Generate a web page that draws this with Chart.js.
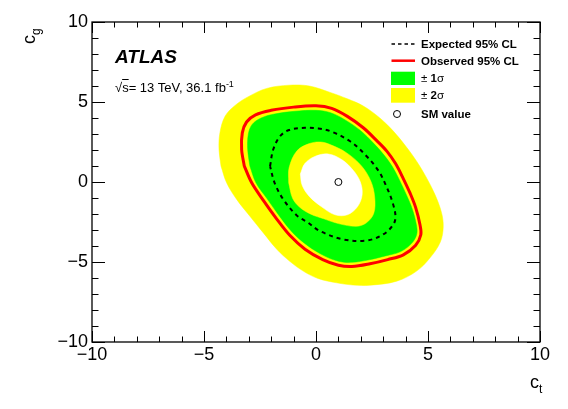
<!DOCTYPE html>
<html>
<head>
<meta charset="utf-8">
<script src="https://cdn.jsdelivr.net/npm/chart.js@4.4.0/dist/chart.umd.min.js"></script>
<style>
  html, body { margin: 0; padding: 0; background: #fff; }
  #wrap { position: relative; width: 568px; height: 409px; font-family: "Liberation Sans", Arial, Helvetica, sans-serif; color: #000; }
  #chart { position: absolute; left: 0; top: 0; }
  .t { position: absolute; white-space: nowrap; }
  .leg { font-size: 11.5px; font-weight: bold; line-height: 14px; height: 14px; left: 421px; }
  .sym { position: absolute; }
</style>
</head>
<body>
<div id="wrap">
  <canvas id="chart" width="568" height="409"></canvas>

  <div class="t" style="left:115px; top:47px; font-size:19px; line-height:19px; font-weight:bold; font-style:italic;">ATLAS</div>
  <div class="t" style="left:115px; top:80.7px; font-size:13px; line-height:13px;">&radic;<span style="text-decoration:overline;">s</span>= 13 TeV, 36.1 fb<sup style="font-size:9px; line-height:0;">-1</sup></div>

  <div class="t" style="left:530px; top:372.8px; font-size:18px; line-height:18px;">c<span style="font-size:12px; position:relative; top:5px;">t</span></div>
  <div class="t" style="left:19.8px; top:44px; font-size:18px; line-height:18px; transform:rotate(-90deg); transform-origin:left top;">c<span style="font-size:12px; position:relative; top:5px;">g</span></div>

  <svg class="sym" style="left:388px; top:36px;" width="32" height="86">
    <line x1="3.5" y1="8" x2="27" y2="8" stroke="#000" stroke-width="1.6" stroke-dasharray="3.5,3"></line>
    <line x1="3.5" y1="24.7" x2="27" y2="24.7" stroke="#ff0000" stroke-width="2.5"></line>
    <rect x="3" y="35.7" width="24" height="13.3" fill="#00ff00"></rect>
    <rect x="3" y="52" width="24" height="14.7" fill="#ffff00"></rect>
    <circle cx="9" cy="78" r="3.5" fill="none" stroke="#000" stroke-width="1"></circle>
  </svg>
  <div class="t leg" style="top:37px;">Expected 95% CL</div>
  <div class="t leg" style="top:53.7px;">Observed 95% CL</div>
  <div class="t leg" style="top:71.3px; font-weight:normal;">&plusmn; <b>1</b>&sigma;</div>
  <div class="t leg" style="top:88.3px; font-weight:normal;">&plusmn; <b>2</b>&sigma;</div>
  <div class="t leg" style="top:107px;">SM value</div>
</div>

<script>
// axis ranges and tick labels
const ctRange = [-10, 10]
const cgRange = [-10, 10]
const ctTicks = [-10, -5, 0, 5, 10]
const cgTicks = [-10, -5, 0, 5, 10]

// contours as [c_t, c_g] pairs
const expPlus2Sigma = [
  [-4.24, 0.99], [-4.33, 2.03], [-4.29, 3.07], [-4.06, 4.11], [-3.60, 4.80], [-3.00, 5.35],
  [-2.20, 5.85], [-1.20, 6.05], [-0.30, 6.00], [0.63, 5.60], [1.40, 5.20], [2.11, 4.75],
  [2.85, 4.00], [3.45, 3.18], [4.00, 2.25], [4.49, 1.30], [4.90, 0.35], [5.30, -0.75],
  [5.60, -1.90], [5.68, -2.80], [5.55, -3.75], [5.09, -4.74], [4.49, -5.57], [3.60, -6.20],
  [2.41, -6.45], [1.65, -6.44], [0.92, -6.30], [0.09, -6.03], [-0.57, -5.57], [-1.16, -4.97],
  [-1.74, -4.22], [-2.35, -3.18], [-2.95, -2.14], [-3.54, -1.09], [-3.99, -0.05],
]
const expPlus1Sigma = [
  [-2.95, 0.99], [-3.05, 2.03], [-3.02, 3.00], [-2.85, 3.60], [-2.45, 4.00], [-1.85, 4.25],
  [-0.95, 4.42], [0.00, 4.48], [0.65, 4.33], [1.30, 3.88], [1.98, 3.22], [2.55, 2.45],
  [3.00, 1.75], [3.40, 0.98], [3.75, 0.05], [4.05, -0.85], [4.30, -1.70], [4.48, -2.66],
  [4.50, -3.25], [4.28, -3.82], [3.78, -4.35], [3.10, -4.62], [2.38, -4.86], [1.60, -5.02],
  [1.00, -4.95], [0.35, -4.60], [-0.40, -3.95], [-1.05, -3.15], [-1.62, -2.15], [-2.18, -1.05],
  [-2.68, -0.05],
]
const expMinus1Sigma = [
  [-1.22, -0.05], [-1.20, 0.90], [-0.85, 1.95], [-0.30, 2.40], [0.20, 2.50], [0.63, 2.34],
  [1.37, 1.82], [2.04, 0.99], [2.45, 0.05], [2.62, -0.95], [2.58, -1.95], [2.25, -2.55],
  [1.80, -2.77], [1.00, -2.60], [0.35, -2.30], [-0.25, -2.00], [-0.75, -1.55], [-1.05, -1.00],
]
const expMinus2Sigma = [
  [-0.70, 0.50], [-0.50, 1.15], [-0.05, 1.60], [0.55, 1.75], [1.15, 1.40], [1.65, 0.75],
  [1.98, 0.00], [2.06, -0.80], [1.85, -1.55], [1.40, -2.05], [0.85, -2.05], [0.25, -1.55],
  [-0.30, -0.90], [-0.62, -0.20],
]
const expected95 = [
  [-2.05, 0.99], [-1.91, 2.03], [-1.61, 2.85], [-1.20, 3.25], [-0.49, 3.39], [0.10, 3.35],
  [0.63, 3.18], [1.52, 2.55], [2.26, 1.61], [2.80, 0.68], [3.15, -0.30], [3.40, -1.20],
  [3.55, -2.14], [3.45, -2.66], [3.00, -3.28], [2.26, -3.66], [1.22, -3.59], [0.18, -3.07],
  [-0.40, -2.50], [-0.85, -2.10], [-1.46, -1.09], [-1.85, -0.05],
]
const observed95 = [
  [-3.20, 0.99], [-3.32, 2.03], [-3.29, 3.07], [-3.10, 3.75], [-2.70, 4.20], [-2.00, 4.48],
  [-1.00, 4.68], [0.00, 4.76], [0.70, 4.60], [1.40, 4.10], [2.11, 3.39], [2.70, 2.60],
  [3.16, 1.93], [3.55, 1.15], [3.90, 0.20], [4.20, -0.70], [4.45, -1.60], [4.64, -2.66],
  [4.68, -3.30], [4.45, -3.95], [3.90, -4.55], [3.20, -4.85], [2.41, -5.11], [1.60, -5.28],
  [1.00, -5.20], [0.30, -4.85], [-0.49, -4.20], [-1.16, -3.35], [-1.76, -2.30], [-2.35, -1.15],
  [-2.87, -0.05],
]
const smValue = [[1, 0]]

const closed = pts => pts.concat([pts[0]]).map(([x, y]) => ({ x, y }))
const minus = v => (v < 0 ? '\u2212' + Math.abs(v) : String(v))

const band = (data, color, order) => ({
  data: closed(data),
  fill: 'shape',
  backgroundColor: color,
  borderColor: color,
  borderWidth: 0.5,
  pointRadius: 0,
  tension: 0.35,
  order: order,
})

// ROOT style frame with inward ticks on all four sides
const frame = {
  id: 'frame',
  afterDatasetsDraw(chart) {
    const { ctx, chartArea: a, scales: { x, y } } = chart
    ctx.save()
    ctx.strokeStyle = '#000'
    ctx.lineWidth = 1
    ctx.beginPath()
    for (let v = ctRange[0]; v <= ctRange[1]; v++) {
      const px = Math.round(x.getPixelForValue(v)) + 0.5
      const len = v % 5 === 0 ? 11 : 5.5
      ctx.moveTo(px, a.bottom); ctx.lineTo(px, a.bottom - len)
      ctx.moveTo(px, a.top); ctx.lineTo(px, a.top + len)
    }
    for (let v = cgRange[0]; v <= cgRange[1]; v++) {
      const py = Math.round(y.getPixelForValue(v)) + 0.5
      const len = v % 5 === 0 ? 13 : 6.5
      ctx.moveTo(a.left, py); ctx.lineTo(a.left + len, py)
      ctx.moveTo(a.right, py); ctx.lineTo(a.right - len, py)
    }
    ctx.stroke()
    ctx.lineWidth = 1.3
    ctx.strokeRect(a.left, a.top, a.right - a.left, a.bottom - a.top)
    ctx.restore()
  },
}

const tickFont = { family: '"Liberation Sans", Arial, sans-serif', size: 18 }

new Chart(document.getElementById('chart'), {
  type: 'line',
  data: {
    datasets: [
      {
        label: 'SM value',
        data: smValue.map(([x, y]) => ({ x, y })),
        showLine: false,
        pointRadius: 3.5,
        pointBorderWidth: 1,
        pointBorderColor: '#000',
        pointBackgroundColor: 'rgba(0,0,0,0)',
        order: 0,
      },
      {
        label: 'Observed 95% CL',
        data: closed(observed95),
        borderColor: '#ff0000',
        borderWidth: 3,
        pointRadius: 0,
        fill: false,
        tension: 0.35,
        order: 1,
      },
      {
        label: 'Expected 95% CL',
        data: closed(expected95),
        borderColor: '#000',
        borderWidth: 2,
        borderDash: [4, 4],
        pointRadius: 0,
        fill: false,
        tension: 0.35,
        order: 2,
      },
      band(expMinus2Sigma, '#ffffff', 3),
      band(expMinus1Sigma, '#ffff00', 4),
      band(expPlus1Sigma, '#00ff00', 5),
      band(expPlus2Sigma, '#ffff00', 6),
    ],
  },
  options: {
    responsive: false,
    animation: false,
    devicePixelRatio: 1,
    layout: { padding: { left: 0, right: 28, top: 22, bottom: 0 } },
    plugins: { legend: { display: false }, tooltip: { enabled: false } },
    scales: {
      x: {
        type: 'linear',
        min: ctRange[0],
        max: ctRange[1],
        afterBuildTicks: s => { s.ticks = ctTicks.map(v => ({ value: v })) },
        afterFit: s => { s.height = 67 },
        grid: { display: false, drawTicks: false },
        border: { display: false },
        ticks: { font: tickFont, color: '#000', padding: 2, maxRotation: 0, autoSkip: false, callback: minus },
      },
      y: {
        type: 'linear',
        min: cgRange[0],
        max: cgRange[1],
        afterBuildTicks: s => { s.ticks = cgTicks.map(v => ({ value: v })) },
        afterFit: s => { s.width = 92 },
        grid: { display: false, drawTicks: false },
        border: { display: false },
        ticks: { font: tickFont, color: '#000', padding: 4, autoSkip: false, callback: minus },
      },
    },
  },
  plugins: [frame],
})
</script>
</body>
</html>
